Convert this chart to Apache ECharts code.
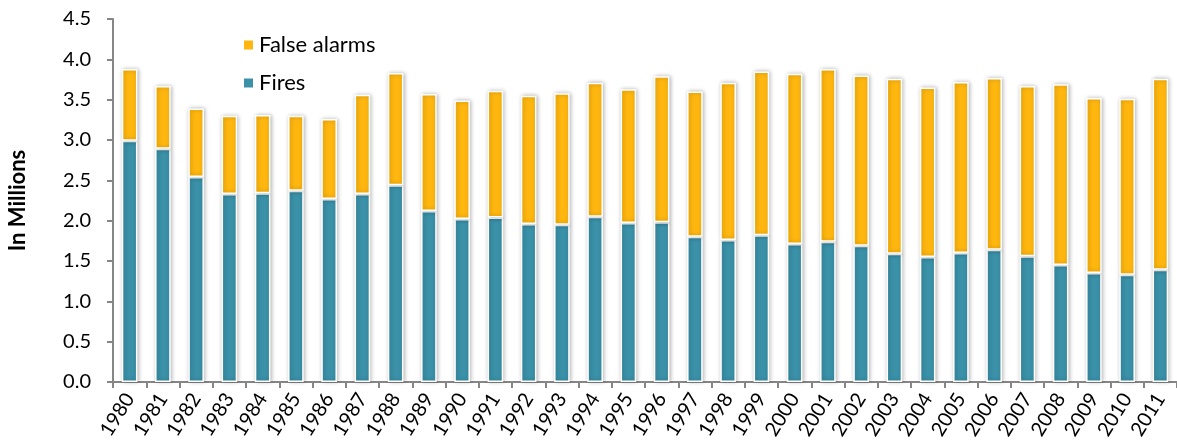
<!DOCTYPE html>
<html>
<head>
<meta charset="utf-8">
<script src="https://cdn.jsdelivr.net/npm/echarts@6/dist/echarts.min.js"></script>
<style>
html,body{margin:0;padding:0;background:#fff;}
#chart{width:1177px;height:448px;}
</style>
</head>
<body>
<div id="chart"></div>
<script>
const years = ['1980','1981','1982','1983','1984','1985','1986','1987','1988','1989','1990','1991','1992','1993','1994','1995','1996','1997','1998','1999','2000','2001','2002','2003','2004','2005','2006','2007','2008','2009','2010','2011'];
const fires = [2.99,2.89,2.54,2.33,2.34,2.37,2.27,2.33,2.44,2.12,2.02,2.04,1.96,1.95,2.05,1.97,1.98,1.80,1.76,1.82,1.71,1.74,1.69,1.59,1.55,1.60,1.64,1.56,1.45,1.35,1.33,1.39];
const falseAlarms = [0.89,0.78,0.85,0.97,0.97,0.93,0.99,1.23,1.39,1.45,1.47,1.57,1.59,1.63,1.66,1.66,1.81,1.80,1.95,2.03,2.11,2.14,2.11,2.17,2.10,2.12,2.13,2.11,2.24,2.17,2.18,2.37];
const yTicks = {min: 0, max: 4.5, interval: 0.5};

const FONT = 'Lato, "Open Sans", sans-serif';
const chart = echarts.init(document.getElementById('chart'));
const barStyle = (c) => ({
  color: c,
  borderColor: '#ffffff',
  borderWidth: 1.5,
  shadowColor: 'rgba(0,0,0,0.28)',
  shadowBlur: 4,
  shadowOffsetX: 1,
  shadowOffsetY: 0
});
chart.setOption({
  animation: false,
  backgroundColor: '#ffffff',
  grid: {left: 113, right: 0, top: 19, bottom: 66, containLabel: false, outerBoundsMode: 'none'},
  legend: {
    orient: 'vertical',
    left: 237,
    top: 29,
    itemWidth: 11,
    itemHeight: 11,
    itemGap: 16,
    icon: 'rect',
    textStyle: {fontFamily: FONT, fontSize: 22, color: '#000'},
    data: ['False alarms', 'Fires']
  },
  xAxis: {
    type: 'category',
    data: years,
    axisLine: {lineStyle: {color: '#868686', width: 2}},
    axisTick: {show: true, length: 6, lineStyle: {color: '#868686', width: 2}},
    axisLabel: {rotate: 58, fontFamily: FONT, fontSize: 20, color: '#000', margin: 13, interval: 0}
  },
  yAxis: {
    type: 'value',
    min: yTicks.min, max: yTicks.max, interval: yTicks.interval,
    name: 'In Millions',
    nameLocation: 'middle',
    nameGap: 84,
    nameTextStyle: {fontFamily: FONT, fontSize: 22, fontWeight: 'bold', color: '#000'},
    axisLine: {show: true, lineStyle: {color: '#868686', width: 2}},
    axisTick: {show: true, length: 6, lineStyle: {color: '#868686', width: 2}},
    splitLine: {show: false},
    axisLabel: {fontFamily: FONT, fontSize: 20, color: '#000', margin: 22, formatter: v => v.toFixed(1)}
  },
  series: [
    {name: 'Fires', type: 'bar', stack: 'total', data: fires, barWidth: '47%', itemStyle: barStyle('#3A91A8')},
    {name: 'False alarms', type: 'bar', stack: 'total', data: falseAlarms, barWidth: '47%', itemStyle: barStyle('#FFB70F')}
  ]
});
</script>
</body>
</html>
